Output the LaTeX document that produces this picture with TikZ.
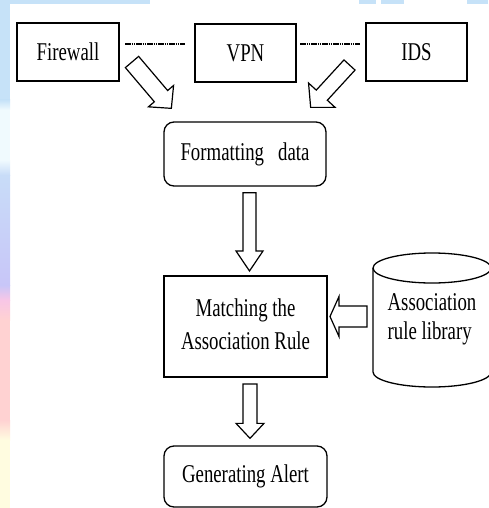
\documentclass[tikz,border=0pt]{standalone}
\usepackage{fontspec}
\setmainfont{Liberation Serif}
\usetikzlibrary{calc}
\definecolor{bgA}{HTML}{C6E2F8}
\definecolor{bgB}{HTML}{F0FAFE}
\definecolor{bgC}{HTML}{C8DCF8}
\definecolor{bgD}{HTML}{C8C6F8}
\definecolor{bgE}{HTML}{F8C6E6}
\definecolor{bgF}{HTML}{FFD2D2}
\definecolor{bgG}{HTML}{FFFCE0}
\newcommand\stx[1]{\scalebox{1}[1.36]{#1}}
\newcommand\blockarrow[5]{%
  \coordinate (bah) at ($(#2)!#5!(#1)$);
  \draw[blockarr] ($(#1)!#3!90:(#2)$) -- ($(bah)!#3!90:(#2)$) -- ($(bah)!#4!90:(#2)$) -- (#2)
    -- ($(bah)!#4!-90:(#2)$) -- ($(bah)!#3!-90:(#2)$) -- ($(#1)!#3!-90:(#2)$) -- cycle;}
\begin{document}
\begin{tikzpicture}[x=1pt,y=-1pt,
  base/.style={font=\fontsize{18.8}{24.3}\selectfont, inner sep=0pt},
  sqbox/.style={base, draw, line width=2pt},
  rbox/.style={base, draw, line width=1.3pt, rounded corners=10pt},
  blockarr/.style={draw, line width=1.2pt, fill=white, line join=miter},
  link/.style={line width=2pt, dash pattern=on 1.5pt off 0.7pt},
  cyl/.style={draw, line width=1.3pt}]
\useasboundingbox (0,0) rectangle (488,508);
\fill[white] (0,0) rectangle (488,508);
% slide background remnants
\fill[bgA] (0,0) rectangle (10,100);
\shade[top color=bgA, bottom color=bgB] (0,100) rectangle (10,110);
\fill[bgB] (0,110) rectangle (10,160);
\shade[top color=bgB, bottom color=bgC] (0,160) rectangle (10,175);
\shade[top color=bgC, bottom color=bgD] (0,175) rectangle (10,285);
\shade[top color=bgD, bottom color=bgE] (0,285) rectangle (10,300);
\shade[top color=bgE, bottom color=bgF] (0,300) rectangle (10,320);
\fill[bgF] (0,320) rectangle (10,420);
\shade[top color=bgF, bottom color=bgG] (0,420) rectangle (10,440);
\fill[bgG] (0,440) rectangle (10,508);
\fill[bgA] (10,0) rectangle (150,4);
\fill[bgA] (359,0) rectangle (376,4);
\fill[bgA] (381,0) rectangle (404,4);
\fill[bgA] (467,0) rectangle (488,4);

% nodes
\node[sqbox, minimum width=102pt, minimum height=58pt] (fw) at (68,52) {\stx{Firewall}};
\node[sqbox, minimum width=101pt, minimum height=58pt] (vpn) at (245.5,53) {\stx{VPN}};
\node[sqbox, minimum width=101pt, minimum height=58pt] (ids) at (416.5,52) {\stx{IDS}};
\node[rbox, minimum width=162pt, minimum height=64pt] (fmt) at (245,154) {\stx{Formatting~~~data}};
\node[sqbox, minimum width=163pt, minimum height=101pt] (match) at (245.5,326.5)
  {\stx{\begin{tabular}{@{}c@{}}Matching the\\Association Rule\end{tabular}}};
\node[rbox, minimum width=163pt, minimum height=61pt] (gen) at (245.5,476.5) {\stx{Generating Alert}};

% cylinder (association rule library)
\draw[cyl] (432,268) ellipse [x radius=59pt, y radius=15pt];
\draw[cyl] (373,268) -- (373,372) arc[start angle=180, end angle=360, x radius=59pt, y radius=15pt] -- (491,268);
\node[base, font=\fontsize{18.8}{22}\selectfont] (lib) at (432,319)
  {\stx{\begin{tabular}{@{}l@{}}Association\\rule library\end{tabular}}};
\coordinate (libw) at (373,316.5);

% dotted links
\draw[link] ($(fw.east)+(5,-8)$) -- ($(vpn.west)+(-9,-9)$);
\draw[link] ($(vpn.east)+(3,-9)$) -- ($(ids.west)+(-5,-8)$);

% block arrows
\coordinate (a1s) at ($(fw.south east)+(12,-20)$);
\coordinate (a1e) at ($(fmt.north west)+(8,-13)$);
\blockarrow{a1s}{a1e}{8.7pt}{16.5pt}{16pt}
\coordinate (a2s) at ($(ids.south west)+(-15.5,-17)$);
\coordinate (a2e) at ($(fmt.north east)+(-16,-14)$);
\blockarrow{a2s}{a2e}{7.5pt}{18pt}{16.5pt}
\coordinate (a3s) at ($(fmt.south)+(4.5,6)$);
\coordinate (a3e) at ($(match.north)+(4,-4)$);
\blockarrow{a3s}{a3e}{6.5pt}{13.5pt}{20pt}
\coordinate (a4s) at ($(match.south)+(4.5,6)$);
\coordinate (a4e) at ($(gen.north)+(4.5,-7)$);
\blockarrow{a4s}{a4e}{7pt}{14pt}{15pt}
\coordinate (a5s) at ($(libw)+(-6,0)$);
\coordinate (a5e) at ($(match.east)+(2,-10)$);
\blockarrow{a5s}{a5e}{10.5pt}{20pt}{9pt}
\end{tikzpicture}
\end{document}
